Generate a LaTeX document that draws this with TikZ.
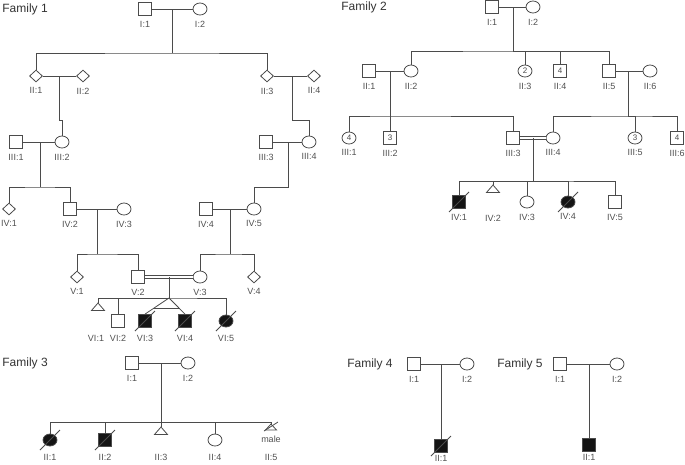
\documentclass[tikz,border=0pt]{standalone}
\usepackage{fontspec}
\setmainfont{Liberation Sans}
\usetikzlibrary{shapes.geometric,calc}
\definecolor{lc}{RGB}{75,75,75}
\definecolor{tc}{RGB}{80,80,80}
\definecolor{af}{RGB}{20,20,20}
\newcommand\symnum{\fontsize{8}{8}\selectfont}
\newcommand\drawtri[1]{\draw (#1) -- ++(-6.5,7.5) -- ++(13,0) -- cycle;}
\newcommand\drawstrike[1]{\draw ($(#1)+(-10,10)$) -- ($(#1)+(10,-10)$);}
\begin{document}
\begin{tikzpicture}[x=1pt,y=-1pt,line width=0.8pt,color=lc,
  sq/.style={rectangle,draw,minimum size=13pt,inner sep=0pt,fill=white},
  ci/.style={ellipse,draw,minimum width=14pt,minimum height=12pt,inner sep=0pt,fill=white},
  dm/.style={diamond,draw,minimum width=13pt,minimum height=12pt,inner sep=0pt,fill=white},
  aff/.style={fill=af},
  lbl/.style={font=\fontsize{9}{10}\selectfont,text=tc,inner sep=0pt},
  ttl/.style={font=\fontsize{12}{14}\selectfont,text=black!80,inner sep=0pt,anchor=west},
  dbl/.style={double=white,double distance=2.4pt},
  every label/.style={lbl}, label distance=5pt]
\useasboundingbox (0,0) rectangle (685,464);

% ---------------- Family 1
\node[ttl] (f1t) at (2,9) {Family 1};
\node[sq,label=below:{I:1}] (f1I1) at (145,9) {};
\node[ci,label=below:{I:2}] (f1I2) at (200,9) {};
\coordinate (f1a1) at (172,9); \coordinate (f1a2) at (172,53);
\node[dm,label=below:{II:1}] (f1II1) at (36,76) {};
\node[dm,label=below:{II:2}] (f1II2) at (83,76) {};
\node[dm,label=below:{II:3}] (f1II3) at (267,76) {};
\node[dm,label=below:{II:4}] (f1II4) at (314,76) {};
\coordinate (f1b1) at (59,76); \coordinate (f1b2) at (59,120);
\coordinate (f1c1) at (292,76); \coordinate (f1c2) at (292,120);
\node[sq,label=below:{III:1}] (f1III1) at (16,142) {};
\node[ci,label=below:{III:2}] (f1III2) at (62,142) {};
\node[sq,label=below:{III:3}] (f1III3) at (266,142) {};
\node[ci,label=below:{III:4}] (f1III4) at (309,142) {};
\coordinate (f1d1) at (40,142); \coordinate (f1d2) at (40,187);
\coordinate (f1e1) at (288,142); \coordinate (f1e2) at (288,187);
\node[dm,label=below:{IV:1}] (f1IV1) at (9,209) {};
\node[sq,label=below:{IV:2}] (f1IV2) at (70,209) {};
\node[ci,label=below:{IV:3}] (f1IV3) at (124,209) {};
\node[sq,label=below:{IV:4}] (f1IV4) at (206,209) {};
\node[ci,label=below:{IV:5}] (f1IV5) at (254,209) {};
\coordinate (f1f1) at (97,209); \coordinate (f1f2) at (97,254);
\coordinate (f1g1) at (230,209); \coordinate (f1g2) at (230,254);
\node[dm,label=below:{V:1}] (f1V1) at (77,277) {};
\node[sq,label=below:{V:2}] (f1V2) at (138,277) {};
\node[ci,label=below:{V:3}] (f1V3) at (200,277) {};
\node[dm,label=below:{V:4}] (f1V4) at (254,277) {};
\coordinate (f1h1) at (169,277); \coordinate (f1h2) at (169,298);
\coordinate (f1VI1) at (98,303);
\node[lbl] (f1VI1l) at (96,338) {VI:1};
\node[sq,label={[label distance=7pt]below:{VI:2}}] (f1VI2) at (118,321) {};
\node[sq,aff,label={[label distance=7pt]below:{VI:3}}] (f1VI3) at (145,321) {};
\node[sq,aff,label={[label distance=7pt]below:{VI:4}}] (f1VI4) at (185,321) {};
\node[ci,aff,label={[label distance=7.5pt]below:{VI:5}}] (f1VI5) at (226,321) {};

\draw (f1I1) -- (f1I2);
\draw (f1a1) -- (f1a2);
\draw (f1II1) |- (f1a2) -| (f1II3);
\draw (f1II1) -- (f1II2);
\draw (f1II3) -- (f1II4);
\draw (f1b1) -- (f1b2) -| (f1III2);
\draw (f1c1) -- (f1c2) -| (f1III4);
\draw (f1III1) -- (f1III2);
\draw (f1III3) -- (f1III4);
\draw (f1d1) -- (f1d2);
\draw (f1IV1) |- (f1d2) -| (f1IV2);
\draw (f1e1) -- (f1e2) -| (f1IV5);
\draw (f1IV2) -- (f1IV3);
\draw (f1IV4) -- (f1IV5);
\draw (f1f1) -- (f1f2);
\draw (f1V1) |- (f1f2) -| (f1V2);
\draw (f1g1) -- (f1g2);
\draw (f1V3) |- (f1g2) -| (f1V4);
\draw[dbl] (f1V2) -- (f1V3);
\draw (f1h1) -- (f1h2);
\draw (f1VI1) |- (f1h2) -| (f1VI5);
\draw (f1VI2) |- (f1h2);
\draw (f1VI3.north) -- (f1h2) -- (f1VI4.north);
\draw ($(f1h2)!0.667!(f1VI3.north)$) -- ($(f1h2)!0.667!(f1VI4.north)$);
\drawtri{f1VI1}
\drawstrike{f1VI3}
\drawstrike{f1VI4}
\drawstrike{f1VI5}

% ---------------- Family 2
\node[ttl] (f2t) at (341,7) {Family 2};
\node[sq,label=below:{I:1}] (f2I1) at (492,7) {};
\node[ci,label=below:{I:2}] (f2I2) at (533,7) {};
\coordinate (f2a1) at (513,7); \coordinate (f2a2) at (513,51);
\node[sq,label=below:{II:1}] (f2II1) at (369,71) {};
\node[ci,label=below:{II:2}] (f2II2) at (411,71) {};
\node[ci,label=below:{II:3}] (f2II3) at (525,71) {\symnum 2};
\node[sq,label=below:{II:4}] (f2II4) at (560,71) {\symnum 4};
\node[sq,label=below:{II:5}] (f2II5) at (609,71) {};
\node[ci,label=below:{II:6}] (f2II6) at (650,71) {};
\coordinate (f2b1) at (390,71); \coordinate (f2b2) at (390,116);
\coordinate (f2c1) at (628,71); \coordinate (f2c2) at (628,116);
\node[ci,label=below:{III:1}] (f2III1) at (349,138) {\symnum 4};
\node[sq,label=below:{III:2}] (f2III2) at (390,138) {\symnum 3};
\node[sq,label=below:{III:3}] (f2III3) at (513,138) {};
\node[ci,label=below:{III:4}] (f2III4) at (553,138) {};
\node[ci,label=below:{III:5}] (f2III5) at (635,138) {\symnum 3};
\node[sq,label=below:{III:6}] (f2III6) at (677,138) {\symnum 4};
\coordinate (f2d1) at (533,138); \coordinate (f2d2) at (533,181);
\node[sq,aff,label=below:{IV:1}] (f2IV1) at (459,202) {};
\coordinate (f2IV2) at (493,185);
\node[lbl] (f2IV2l) at (493,218) {IV:2};
\node[ci,label=below:{IV:3}] (f2IV3) at (527,202) {};
\node[ci,aff,label=below:{IV:4}] (f2IV4) at (568,202) {};
\node[sq,label=below:{IV:5}] (f2IV5) at (615,202) {};

\draw (f2I1) -- (f2I2);
\draw (f2a1) -- (f2a2);
\draw (f2II2) |- (f2a2) -| (f2II5);
\draw (f2II3) |- (f2a2);
\draw (f2II4) |- (f2a2);
\draw (f2II1) -- (f2II2);
\draw (f2II5) -- (f2II6);
\draw (f2b1) -- (f2b2);
\draw (f2III1) |- (f2b2) -| (f2III3);
\draw (f2b2) -- (f2III2);
\draw (f2c1) -- (f2c2);
\draw (f2III4) |- (f2c2) -| (f2III6);
\draw (f2III5) |- (f2c2);
\draw[dbl] (f2III3) -- (f2III4);
\draw (f2d1) -- (f2d2);
\draw (f2IV1) |- (f2d2) -| (f2IV5);
\draw (f2IV2) |- (f2d2);
\draw (f2IV3) |- (f2d2);
\draw (f2IV4) |- (f2d2);
\drawtri{f2IV2}
\drawstrike{f2IV1}
\drawstrike{f2IV4}

% ---------------- Family 3
\node[ttl] (f3t) at (2,363) {Family 3};
\node[sq,label=below:{I:1}] (f3I1) at (132,363) {};
\node[ci,label=below:{I:2}] (f3I2) at (188,363) {};
\coordinate (f3a1) at (161,363); \coordinate (f3a2) at (161,422);
\node[ci,aff,label={[label distance=7pt]below:{II:1}}] (f3II1) at (50,440) {};
\node[sq,aff,label={[label distance=6.5pt]below:{II:2}}] (f3II2) at (105,440) {};
\coordinate (f3II3) at (161,427);
\node[lbl] (f3II3l) at (161,457) {II:3};
\node[ci,label={[label distance=7pt]below:{II:4}}] (f3II4) at (215,440) {};
\coordinate (f3II5) at (271,424);
\node[lbl] (f3male) at (271,439) {male};
\node[lbl] (f3II5l) at (271,457) {II:5};

\draw (f3I1) -- (f3I2);
\draw (f3a1) -- (f3a2);
\draw (f3II1) |- (f3a2) -| (f3II5);
\draw (f3II2) |- (f3a2);
\draw (f3II3) |- (f3a2);
\draw (f3II4) |- (f3a2);
\drawtri{f3II3}
\draw (f3II5) -- ++(-5.5,6) -- ++(11,0) -- cycle;
\draw ($(f3II5)+(-7,7)$) -- ($(f3II5)+(7,-2)$);
\drawstrike{f3II1}
\drawstrike{f3II2}

% ---------------- Family 4
\node[ttl,anchor=east] (f4t) at (393,364) {Family 4};
\node[sq,label=below:{I:1}] (f4I1) at (414,364) {};
\node[ci,label=below:{I:2}] (f4I2) at (467,364) {};
\coordinate (f4a1) at (441,364);
\node[sq,aff,label={[label distance=2pt]below:{II:1}}] (f4II1) at (441,446) {};
\draw (f4I1) -- (f4I2);
\draw (f4a1) -- (f4II1);
\drawstrike{f4II1}

% ---------------- Family 5
\node[ttl,anchor=east] (f5t) at (543,364) {Family 5};
\node[sq,label=below:{I:1}] (f5I1) at (560,364) {};
\node[ci,label=below:{I:2}] (f5I2) at (617,364) {};
\coordinate (f5a1) at (589,364);
\node[sq,aff,label={[label distance=2pt]below:{II:1}}] (f5II1) at (589,445) {};
\draw (f5I1) -- (f5I2);
\draw (f5a1) -- (f5II1);
\end{tikzpicture}
\end{document}
